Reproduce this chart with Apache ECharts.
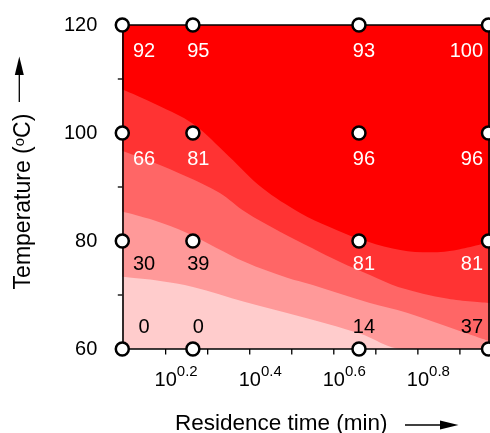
<!DOCTYPE html>
<html>
<head>
<meta charset="utf-8">
<script src="https://cdn.jsdelivr.net/npm/echarts@6/dist/echarts.min.js"></script>
<style>
html,body{margin:0;padding:0;background:#fff;}
#c{width:490px;height:433px;}
</style>
</head>
<body>
<div id="c"></div>
<script>
// ---- data ----
const times = [1.25, 1.84, 4.57, 9.29];          // residence time (min)
const temps = [60, 80, 100, 120];                 // temperature (°C)
const yield60 = [0, 0, 14, 37];
const yield80 = [30, 39, 81, 81];
const yield100 = [66, 81, 96, 96];
const yield120 = [92, 95, 93, 100];
const yTickLabels = [60, 80, 100, 120];
const yTicks = [60, 70, 80, 90, 100, 110, 120];
const xTickLabels = [0.2, 0.4, 0.6, 0.8];         // exponents of 10
const xMinorTicks = [0.1, 0.2, 0.3, 0.4, 0.5, 0.6, 0.7, 0.8, 0.9];
// contour boundaries: [log10(time/min), temperature]
const contour20 = [[0.09,73.4],[0.187,72.6],[0.265,71.5],[0.389,68.7],[0.520,66.0],[0.660,62.9],[0.765,60],[0.975,60]];
const contour40 = [[0.09,85.6],[0.170,83.9],[0.251,81.5],[0.389,76.1],[0.489,73.2],[0.548,71.9],[0.686,68.5],[0.774,66.7],[0.893,63.5],[0.975,61.3]];
const contour60 = [[0.09,96.9],[0.170,94.6],[0.251,91.9],[0.329,88.9],[0.389,85.4],[0.472,81.7],[0.548,78.7],[0.615,76.1],[0.686,73.7],[0.753,71.5],[0.872,69.3],[0.975,68.5]];
const contour80 = [[0.09,108.3],[0.180,105.2],[0.265,101.7],[0.350,95.7],[0.430,89.8],[0.520,85.2],[0.590,82.6],[0.660,80.4],[0.740,78.6],[0.812,77.9],[0.880,78.2],[0.975,79.9]];

// ---- build ----
const FONT = '"Liberation Sans", Arial, Helvetica, sans-serif';
const yieldRows = [yield60, yield80, yield100, yield120];
const lt = times.map(t => Math.log10(t));
const xMin = lt[0], xMax = lt[lt.length - 1];

const colOff = [[21.7, 'center'], [5.4, 'center'], [5, 'center'], [-5.5, 'right']];
const rowOff = [-22, 23.5, 26.5, 26.8];
const pts = [];
temps.forEach((T, r) => {
  times.forEach((t, c) => {
    const v = yieldRows[r][c];
    pts.push({
      value: [lt[c], T, v],
      label: {
        offset: [colOff[c][0], rowOff[r]],
        align: colOff[c][1],
        color: v >= 60 ? '#ffffff' : '#000000'
      }
    });
  });
});

function area(data, color) {
  return {
    type: 'line', data: data, smooth: 0.35, symbol: 'none', silent: true,
    lineStyle: { width: 0, color: color }, itemStyle: { color: color },
    areaStyle: { origin: 'end', color: color, opacity: 1 },
    clip: true, z: 2
  };
}
function frameX(pos) {
  return {
    type: 'value', position: pos, min: xMin, max: xMax, z: 5,
    axisLine: { show: true, onZero: false, lineStyle: { color: '#000', width: 1.6 } },
    axisTick: { show: false }, axisLabel: { show: false }, splitLine: { show: false }
  };
}
function frameY(pos) {
  return {
    type: 'value', position: pos, min: 60, max: 120, z: 5,
    axisLine: { show: true, onZero: false, lineStyle: { color: '#000', width: 1.6 } },
    axisTick: { show: false }, axisLabel: { show: false }, splitLine: { show: false }
  };
}
// tick marks drawn through the axes' scales
const xTickSeries = {
  type: 'custom', silent: true, clip: false, z: 6,
  data: xMinorTicks.map(v => [v, 60]),
  renderItem: (params, api) => {
    const p = api.coord([api.value(0), api.value(1)]);
    return { type: 'rect', shape: { x: p[0] - 0.65, y: p[1], width: 1.3, height: 5.5 }, style: { fill: '#000' } };
  }
};
const yTickSeries = {
  type: 'custom', silent: true, clip: false, z: 6,
  data: yTicks.map(v => [xMin, v]),
  renderItem: (params, api) => {
    const p = api.coord([api.value(0), api.value(1)]);
    return { type: 'rect', shape: { x: p[0] - 4.5, y: p[1] - 0.65, width: 4.5, height: 1.3 }, style: { fill: '#000' } };
  }
};

const chart = echarts.init(document.getElementById('c'), null, { renderer: 'canvas' });
chart.setOption({
  animation: false,
  backgroundColor: '#ffffff',
  grid: {
    left: 122.3, right: 1.5, top: 25, bottom: 84,
    show: true, backgroundColor: '#ffcccc', borderWidth: 0,
    outerBoundsMode: 'none', containLabel: false
  },
  xAxis: [{
    type: 'value', position: 'bottom', min: xMin, max: xMax,
    axisLine: { show: false, onZero: false },
    axisTick: { show: false },
    splitLine: { show: false },
    axisLabel: {
      customValues: xTickLabels, margin: 15,
      formatter: v => '{b|10}{s|' + v.toFixed(1) + '}',
      padding: [0, 0, 0, 21],
      rich: {
        b: { fontSize: 20, fontFamily: FONT, color: '#000', lineHeight: 26, verticalAlign: 'bottom' },
        s: { fontSize: 15, fontFamily: FONT, color: '#000', lineHeight: 26, verticalAlign: 'top' }
      }
    }
  }, frameX('bottom'), frameX('top')],
  yAxis: [{
    type: 'value', position: 'left', min: 60, max: 120, interval: 10,
    axisLine: { show: false, onZero: false },
    axisTick: { show: false },
    splitLine: { show: false },
    axisLabel: {
      margin: 25, fontSize: 20, fontFamily: FONT, color: '#000',
      formatter: v => (yTickLabels.indexOf(v) >= 0 ? String(v) : '')
    }
  }, frameY('left'), frameY('right')],
  series: [
    area(contour20, '#ff9999'),
    area(contour40, '#ff6666'),
    area(contour60, '#ff3333'),
    area(contour80, '#ff0000'),
    xTickSeries,
    yTickSeries,
    {
      type: 'scatter', data: pts, symbol: 'circle', symbolSize: 13, clip: false, z: 10,
      itemStyle: { color: '#ffffff', borderColor: '#000000', borderWidth: 2.5, opacity: 1 },
      label: {
        show: true, position: 'inside', fontSize: 20, fontFamily: FONT,
        formatter: p => String(p.value[2])
      },
      emphasis: { disabled: true }
    }
  ],
  graphic: [
    {
      type: 'text', left: 175, top: 412, z: 20,
      style: { text: 'Residence time (min)', fontSize: 22.5, fontFamily: FONT, fill: '#000' }
    },
    { type: 'line', z: 20, shape: { x1: 405, y1: 425, x2: 445, y2: 425 }, style: { stroke: '#000', lineWidth: 1.3 } },
    { type: 'polygon', z: 20, shape: { points: [[440, 420.5], [458.5, 425], [440, 429.5]] }, style: { fill: '#000' } },
    {
      type: 'text', x: 23.5, y: 201.5, rotation: Math.PI / 2, z: 20,
      style: {
        text: 'Temperature ({s|o}C)', fontSize: 23, fontFamily: FONT, fill: '#000',
        align: 'center', verticalAlign: 'middle',
        rich: { s: { fontSize: 15, fontFamily: FONT, fill: '#000', verticalAlign: 'top', lineHeight: 23 } }
      }
    },
    { type: 'line', z: 20, shape: { x1: 19.3, y1: 102, x2: 19.3, y2: 70 }, style: { stroke: '#000', lineWidth: 1.3 } },
    { type: 'polygon', z: 20, shape: { points: [[14.8, 75], [19.3, 56.5], [23.8, 75]] }, style: { fill: '#000' } }
  ]
});
</script>
</body>
</html>
